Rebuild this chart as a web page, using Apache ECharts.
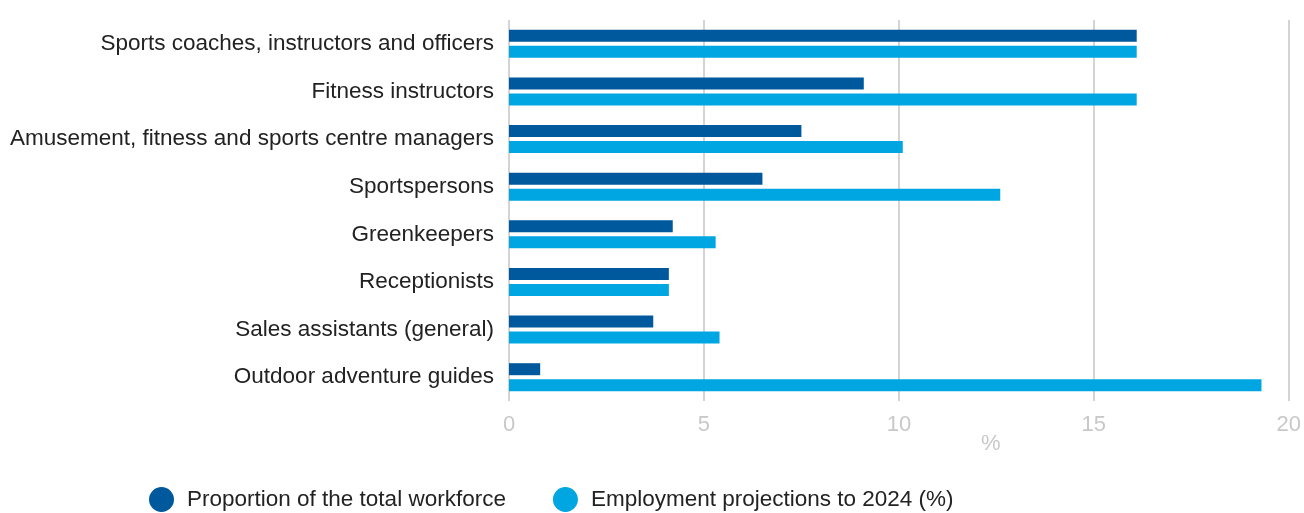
<!DOCTYPE html>
<html>
<head>
<meta charset="utf-8">
<script src="https://cdn.jsdelivr.net/npm/echarts@6/dist/echarts.min.js"></script>
<style>
html,body{margin:0;padding:0;background:#fff;}
#chart{width:1304px;height:513px;}
</style>
</head>
<body>
<div id="chart"></div>
<script>
const categories = [
  "Sports coaches, instructors and officers",
  "Fitness instructors",
  "Amusement, fitness and sports centre managers",
  "Sportspersons",
  "Greenkeepers",
  "Receptionists",
  "Sales assistants (general)",
  "Outdoor adventure guides"
];
const seriesNames = ["Proportion of the total workforce", "Employment projections to 2024 (%)"];
const workforce = [16.1, 9.1, 7.5, 6.5, 4.2, 4.1, 3.7, 0.8];
const projections = [16.1, 16.1, 10.1, 12.6, 5.3, 4.1, 5.4, 19.3];
const xTicks = { min: 0, max: 20, interval: 5 };
const axisName = "%";

const font = "'Liberation Sans', Arial, Helvetica, sans-serif";
const chart = echarts.init(document.getElementById('chart'), null, { renderer: 'canvas' });
chart.setOption({
  animation: false,
  textStyle: { fontFamily: font },
  grid: { left: 509, right: 12, top: 20, height: 381, containLabel: false },
  legend: {
    left: 149, top: 487, padding: 0,
    itemWidth: 25, itemHeight: 25, itemGap: 47,
    icon: 'circle',
    textStyle: { fontSize: 22.5, color: '#222', fontFamily: font, padding: [0, 0, 0, 8] },
    data: seriesNames
  },
  xAxis: {
    type: 'value',
    min: xTicks.min, max: xTicks.max, interval: xTicks.interval,
    name: axisName,
    nameLocation: 'middle',
    nameGap: 32,
    nameMoveOverlap: false,
    nameTextStyle: { fontSize: 22, color: '#c8c8c8', fontFamily: font, padding: [0, 0, 0, 184] },
    axisLine: { show: false },
    axisTick: { show: false },
    axisLabel: { fontSize: 22, color: '#c8c8c8', margin: 13, fontFamily: font },
    splitLine: { show: true, lineStyle: { color: '#d4d4d4', width: 2 } }
  },
  yAxis: {
    type: 'category',
    inverse: true,
    data: categories,
    axisLine: { show: false },
    axisTick: { show: false },
    axisLabel: { fontSize: 22.5, color: '#222', margin: 15, fontFamily: font }
  },
  series: [
    { name: seriesNames[0], type: 'bar', data: workforce, barWidth: 12, barGap: '33%',
      itemStyle: { color: '#00599d' } },
    { name: seriesNames[1], type: 'bar', data: projections, barWidth: 12, barGap: '33%',
      itemStyle: { color: '#00a6e2' } }
  ]
});
</script>
</body>
</html>
